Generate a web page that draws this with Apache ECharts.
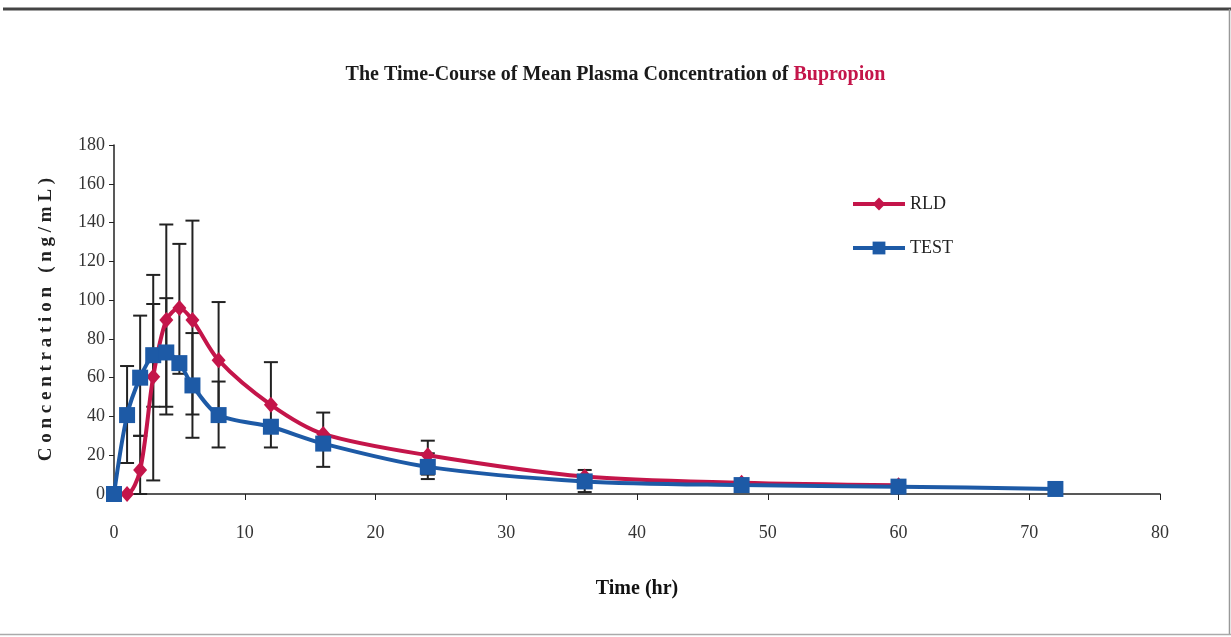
<!DOCTYPE html>
<html>
<head>
<meta charset="utf-8">
<script src="https://cdn.jsdelivr.net/npm/echarts@6/dist/echarts.min.js"></script>
<style>
html,body{margin:0;padding:0;background:#fff;}
#c{width:1231px;height:637px;}
</style>
</head>
<body>
<div id="c"></div>
<script>
// ---- data ----
const time = [0, 1, 2, 3, 4, 5, 6, 8, 12, 16, 24, 36, 48, 60, 72];
const rld  = [0, 0, 12.4, 60.5, 89.7, 95.9, 89.7, 69, 46, 31, 20, 9, 5.8, 4.5, null];
const test = [0, 40.7, 60, 71.6, 73, 67.5, 56, 40.7, 34.7, 26, 14, 6.5, 4.6, 3.8, 2.6];
// error bars: [time, low, high]
const rldErr  = [[2, 0, 30], [3, 7, 113], [4, 41, 139], [5, 62, 129], [6, 41, 141], [8, 39, 99], [12, 24, 68], [24, 10, 27.5]];
const testErr = [[1, 16, 66], [2, 30, 92], [3, 45, 98], [4, 45, 101], [6, 29, 83], [8, 24, 58], [16, 14, 42], [24, 7.7, 21], [36, 1, 12.4]];
const xTicks = {min: 0, max: 80, interval: 10};
const yTicks = {min: 0, max: 180, interval: 20};
const titleMain = 'The Time-Course of Mean Plasma Concentration of ';
const titleDrug = 'Bupropion';
const seriesNames = ['RLD', 'TEST'];

const RED = '#c4154a';
const BLUE = '#1d5aa6';
const SERIF = '"Liberation Serif", "DejaVu Serif", serif';

function pairs(xs, ys) { return xs.map((x, i) => [x, ys[i]]).filter(p => p[1] !== null); }

function errRender(params, api) {
  const x = api.value(0), lo = api.value(1), hi = api.value(2);
  const pLo = api.coord([x, lo]);
  const pHi = api.coord([x, hi]);
  const w = 7;
  const st = {stroke: '#222', lineWidth: 2};
  return {
    type: 'group',
    children: [
      {type: 'line', shape: {x1: pLo[0], y1: pLo[1], x2: pHi[0], y2: pHi[1]}, style: st},
      {type: 'line', shape: {x1: pLo[0] - w, y1: pLo[1], x2: pLo[0] + w, y2: pLo[1]}, style: st},
      {type: 'line', shape: {x1: pHi[0] - w, y1: pHi[1], x2: pHi[0] + w, y2: pHi[1]}, style: st}
    ]
  };
}

const chart = echarts.init(document.getElementById('c'));
chart.setOption({
  animation: false,
  backgroundColor: '#fff',
  title: {
    text: '{a|' + titleMain + '}{b|' + titleDrug + '}',
    left: 'center',
    top: 60,
    textStyle: {
      rich: {
        a: {fontFamily: SERIF, fontWeight: 'bold', fontSize: 20, color: '#1a1a1a'},
        b: {fontFamily: SERIF, fontWeight: 'bold', fontSize: 20, color: RED}
      }
    }
  },
  legend: {
    data: seriesNames,
    orient: 'vertical',
    left: 846,
    top: 190,
    itemGap: 26,
    itemWidth: 52,
    itemHeight: 16,
    lineStyle: {width: 4},
    textStyle: {fontFamily: SERIF, fontSize: 18, color: '#222'}
  },
  grid: {left: 114, right: 71, top: 145, bottom: 143},
  xAxis: {
    type: 'value',
    min: xTicks.min, max: xTicks.max, interval: xTicks.interval,
    name: 'Time (hr)',
    nameLocation: 'middle',
    nameGap: 85,
    nameTextStyle: {fontFamily: SERIF, fontWeight: 'bold', fontSize: 20, color: '#111'},
    axisLine: {lineStyle: {color: '#222', width: 1.5}},
    axisTick: {show: true, length: 6, lineStyle: {color: '#222'}},
    axisLabel: {margin: 30, fontFamily: SERIF, fontSize: 18, color: '#333'},
    splitLine: {show: false}
  },
  yAxis: {
    type: 'value',
    min: yTicks.min, max: yTicks.max, interval: yTicks.interval,
    name: 'C o n c e n t r a t i o n   ( n g / m L )',
    nameLocation: 'middle',
    nameGap: 58,
    nameTextStyle: {fontFamily: SERIF, fontWeight: 'bold', fontSize: 19, color: '#222'},
    axisLine: {show: true, lineStyle: {color: '#222', width: 1.5}},
    axisTick: {show: true, length: 5, lineStyle: {color: '#222'}},
    axisLabel: {margin: 9, fontFamily: SERIF, fontSize: 18, color: '#333'},
    splitLine: {show: false}
  },
  series: [
    {
      type: 'custom', name: 'errR', renderItem: errRender, data: rldErr, z: 1,
      encode: {x: 0, y: [1, 2]}, silent: true
    },
    {
      type: 'custom', name: 'errT', renderItem: errRender, data: testErr, z: 1,
      encode: {x: 0, y: [1, 2]}, silent: true
    },
    {
      name: seriesNames[0], type: 'line', data: pairs(time, rld), smooth: 0.3,
      symbol: 'diamond', symbolSize: [14, 16],
      lineStyle: {color: RED, width: 4}, itemStyle: {color: RED}, z: 3
    },
    {
      name: seriesNames[1], type: 'line', data: pairs(time, test), smooth: 0.3,
      symbol: 'rect', symbolSize: 16,
      lineStyle: {color: BLUE, width: 4}, itemStyle: {color: BLUE}, z: 4
    }
  ],
  graphic: [
    {type: 'line', shape: {x1: 3, y1: 9, x2: 1231, y2: 9}, style: {stroke: '#444', lineWidth: 3}},
    {type: 'line', shape: {x1: 1229.5, y1: 9, x2: 1229.5, y2: 635}, style: {stroke: '#999', lineWidth: 1.5}},
    {type: 'line', shape: {x1: 0, y1: 634.5, x2: 1231, y2: 634.5}, style: {stroke: '#aaa', lineWidth: 1.5}}
  ]
});
</script>
</body>
</html>
